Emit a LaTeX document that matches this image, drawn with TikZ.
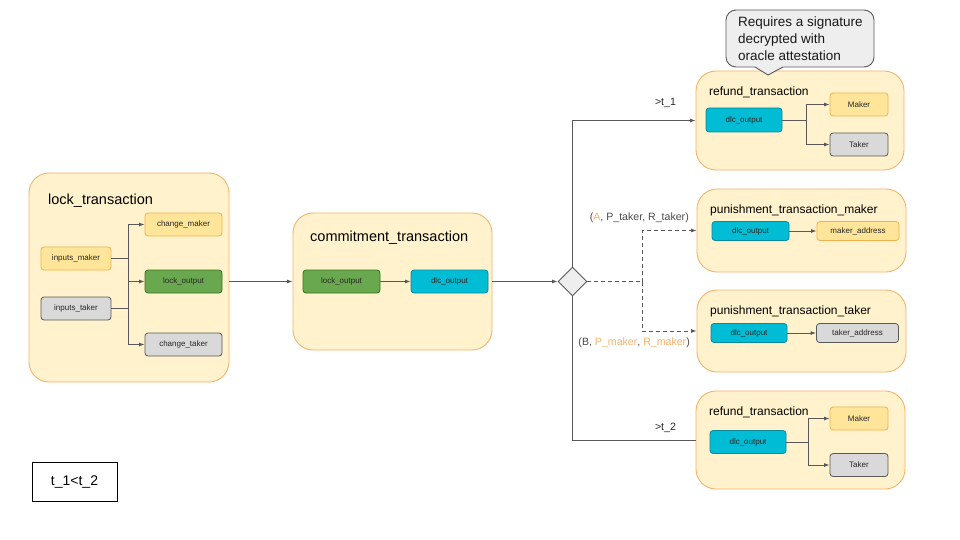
\documentclass[tikz,border=0pt]{standalone}
\usepackage{fontspec}
\setmainfont{Liberation Sans}
\usetikzlibrary{arrows.meta,shapes.geometric}
\definecolor{cfill}{HTML}{FFF2CC}
\definecolor{cdraw}{HTML}{F6B26B}
\definecolor{yfill}{HTML}{FFE599}
\definecolor{ydraw}{HTML}{F1B24B}
\definecolor{gfill}{HTML}{6AA84F}
\definecolor{gdraw}{HTML}{38761D}
\definecolor{tfill}{HTML}{00BCD4}
\definecolor{tdraw}{HTML}{0B8A9C}
\definecolor{grfill}{HTML}{D9D9D9}
\definecolor{grdraw}{HTML}{595959}
\definecolor{lfill}{HTML}{EEEEEE}
\definecolor{lcol}{HTML}{595959}
\definecolor{orangetxt}{HTML}{F6B26B}
\tikzset{
  container/.style={draw=cdraw,fill=cfill,rounded corners=20pt,line width=0.9pt,inner sep=0pt},
  sbox/.style={rounded corners=3pt,line width=0.8pt,inner sep=0pt,font=\fontsize{8}{9}\selectfont,text=black!85},
  ybox/.style={sbox,draw=ydraw,fill=yfill},
  gbox/.style={sbox,draw=gdraw,fill=gfill},
  tbox/.style={sbox,draw=tdraw,fill=tfill},
  grbox/.style={sbox,draw=grdraw,fill=grfill},
  bigtitle/.style={anchor=west,inner sep=0pt,font=\fontsize{14.5}{16}\selectfont},
  smtitle/.style={anchor=west,inner sep=0pt,font=\fontsize{12}{14}\selectfont},
  conn/.style={draw=lcol,line width=0.9pt},
  arr/.style={conn,-{Latex[length=5.5pt,width=4pt]}},
  dashline/.style={conn,dash pattern=on 4pt off 3pt},
  lbl/.style={inner sep=0pt,font=\fontsize{10.6}{12}\selectfont,text=black!70},
}
\begin{document}
\begin{tikzpicture}[x=1pt,y=-1pt]
\useasboundingbox (0,0) rectangle (960,540);
\fill[white] (0,0) rectangle (960,540);

% lock transaction
\node[container,minimum width=200pt,minimum height=209pt] (lock) at (129,277.5) {};
\node[bigtitle] (lockt) at (48,201) {lock\_transaction};
\node[ybox,minimum width=77pt,minimum height=23pt] (cm) at (183.5,224.5) {change\_maker};
\node[ybox,minimum width=70pt,minimum height=23pt] (im) at (76,258.5) {inputs\_maker};
\node[gbox,minimum width=77pt,minimum height=23pt] (lo) at (183.5,281.5) {lock\_output};
\node[grbox,minimum width=70pt,minimum height=23pt] (it) at (76,308.5) {inputs\_taker};
\node[grbox,minimum width=77pt,minimum height=23pt] (ct) at (183.5,344.5) {change\_taker};
\coordinate (b1) at (128,281.5);
\draw[conn] (im.east) -| (b1);
\draw[conn] (it.east) -| (b1);
\draw[arr] (b1) |- (cm.west);
\draw[arr] (b1) |- (lo.west);
\draw[arr] (b1) |- (ct.west);

% commitment transaction
\node[container,minimum width=199pt,minimum height=137pt] (comm) at (392.5,281.5) {};
\node[bigtitle] (commt) at (310,238) {commitment\_transaction};
\node[gbox,minimum width=77pt,minimum height=23pt] (clo) at (341.5,281.5) {lock\_output};
\node[tbox,minimum width=77pt,minimum height=23pt] (cdlc) at (449.5,281.5) {dlc\_output};
\draw[arr] (clo) -- (cdlc);
\draw[arr] (lo.east -| lock.east) -- (lo.east -| comm.west);

% decision diamond
\node[diamond,draw=lcol,fill=lfill,line width=0.9pt,minimum width=29pt,minimum height=29pt,inner sep=0pt] (dia) at (572.5,281.5) {};
\draw[arr] (comm.east) -- (dia.west);

% refund 1
\node[container,minimum width=208pt,minimum height=99pt] (r1) at (800,120.5) {};
\node[smtitle] (r1t) at (709,92) {refund\_transaction};
\node[tbox,minimum width=76pt,minimum height=24pt] (r1d) at (744,120) {dlc\_output};
\node[ybox,minimum width=58pt,minimum height=23pt] (r1m) at (859,104.5) {Maker};
\node[grbox,minimum width=58pt,minimum height=23pt] (r1k) at (859,144.5) {Taker};
\coordinate (b2) at (806,120);
\draw[conn] (r1d.east) -- (b2);
\draw[arr] (b2) |- (r1m.west);
\draw[arr] (b2) |- (r1k.west);

% callout
\draw[draw=grdraw,fill=lfill,line width=0.9pt] (755,67) [rounded corners=10pt] -- (726,67) -- (726,10) -- (874,10) -- (874,67) [sharp corners] -- (783,67) -- (768,75) -- cycle;
\node[inner sep=0pt,align=left,anchor=north west,font=\fontsize{13.5}{17}\selectfont,text=black!90] (note) at (738,17) {Requires a signature\\decrypted with\\oracle attestation};

% punishment maker
\node[container,minimum width=209pt,minimum height=83pt] (pm) at (801.5,230.5) {};
\node[smtitle] (pmt) at (710,210) {punishment\_transaction\_maker};
\node[tbox,minimum width=77pt,minimum height=19pt] (pmd) at (750.5,231) {dlc\_output};
\node[ybox,minimum width=82pt,minimum height=19pt] (pma) at (858,231) {maker\_address};
\draw[arr] (pmd) -- (pma);

% punishment taker
\node[container,minimum width=209pt,minimum height=82pt] (pt) at (801.5,331) {};
\node[smtitle] (ptt) at (710,311) {punishment\_transaction\_taker};
\node[tbox,minimum width=76pt,minimum height=19pt] (ptd) at (749,333) {dlc\_output};
\node[grbox,minimum width=82pt,minimum height=19pt] (pta) at (857.5,333) {taker\_address};
\draw[arr] (ptd) -- (pta);

% refund 2
\node[container,minimum width=209pt,minimum height=98pt] (r2) at (800.5,440) {};
\node[smtitle] (r2t) at (709,412) {refund\_transaction};
\node[tbox,minimum width=76pt,minimum height=23pt] (r2d) at (748,442) {dlc\_output};
\node[ybox,minimum width=58pt,minimum height=23pt] (r2m) at (859,418.5) {Maker};
\node[grbox,minimum width=58pt,minimum height=23pt] (r2k) at (859,465) {Taker};
\coordinate (b3) at (808,442);
\draw[conn] (r2d.east) -- (b3);
\draw[arr] (b3) |- (r2m.west);
\draw[arr] (b3) |- (r2k.west);

% connectors from diamond
\draw[arr] (dia.north) |- (r1.west);
\draw[conn] (dia.south) |- (r2.west);
\coordinate (j) at (642,281.5);
\draw[dashline] (dia.east) -- (j);
\draw[dashline,-{Latex[length=5.5pt,width=4pt]}] (j) |- (pm.west);
\draw[dashline,-{Latex[length=5.5pt,width=4pt]}] (j) |- (pt.west);

% labels
\node[lbl,text=black!85] (l1) at (665.5,103) {>t\_1};
\node[lbl,text=black!85] (l2) at (665.5,428) {>t\_2};
\node[lbl,anchor=east] (la) at (689,218) {(\textcolor{orangetxt}{A}, P\_taker, R\_taker)};
\node[lbl,anchor=east] (lb) at (690,343) {(B, \textcolor{orangetxt}{P\_maker}, \textcolor{orangetxt}{R\_maker})};

% legend
\node[draw=black,line width=0.9pt,minimum width=85pt,minimum height=39pt,inner sep=0pt,font=\fontsize{14}{16}\selectfont] (leg) at (74.5,481.5) {t\_1<t\_2};
\end{tikzpicture}
\end{document}
